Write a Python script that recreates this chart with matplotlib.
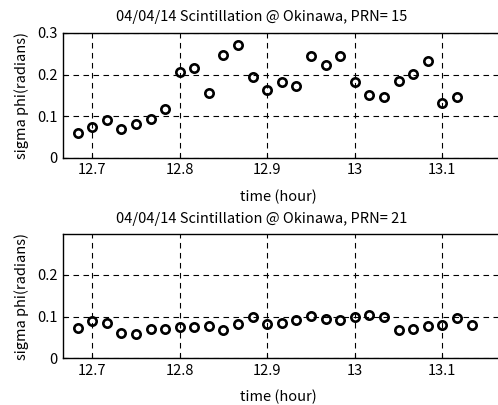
import matplotlib
matplotlib.use('Agg')
import matplotlib.pyplot as plt

plt.rcParams['font.family'] = ['Noto Sans CJK JP', 'DejaVu Sans']

# PRN 15
t15 = [12.6833, 12.7, 12.7167, 12.7333, 12.75, 12.7667, 12.7833, 12.8, 12.8167,
       12.8333, 12.85, 12.8667, 12.8833, 12.9, 12.9167, 12.9333, 12.95, 12.9667,
       12.9833, 13.0, 13.0167, 13.0333, 13.05, 13.0667, 13.0833, 13.1, 13.1167]
sig15 = [0.060, 0.074, 0.090, 0.070, 0.082, 0.093, 0.118, 0.206, 0.217,
         0.155, 0.247, 0.272, 0.194, 0.162, 0.182, 0.172, 0.245, 0.222,
         0.245, 0.182, 0.152, 0.146, 0.185, 0.202, 0.232, 0.132, 0.146]

# PRN 21
t21 = [12.6833, 12.7, 12.7167, 12.7333, 12.75, 12.7667, 12.7833, 12.8, 12.8167,
       12.8333, 12.85, 12.8667, 12.8833, 12.9, 12.9167, 12.9333, 12.95, 12.9667,
       12.9833, 13.0, 13.0167, 13.0333, 13.05, 13.0667, 13.0833, 13.1, 13.1167,
       13.1333]
sig21 = [0.072, 0.090, 0.085, 0.061, 0.059, 0.070, 0.070, 0.074, 0.074,
         0.077, 0.068, 0.082, 0.100, 0.081, 0.084, 0.092, 0.102, 0.094,
         0.092, 0.099, 0.104, 0.099, 0.068, 0.071, 0.077, 0.079, 0.097,
         0.079]

xticks = [12.7, 12.8, 12.9, 13.0, 13.1]
xticklabels = ['12.7', '12.8', '12.9', '13', '13.1']

W, H = 498, 405
fig = plt.figure(figsize=(W / 100, H / 100), dpi=100)

fs = 10.5
left, right = 63, 500.8


def setup(ax, t, s, ytop, yticks, ylabels):
    ax.plot(t, s, 'o', mfc='none', mec='black', ms=6, mew=1.9, clip_on=False)
    ax.set_xlim(12.6667, 13.1667)
    ax.set_ylim(0, ytop)
    ax.set_xticks(xticks)
    ax.set_xticklabels(xticklabels, fontsize=fs)
    ax.set_yticks(yticks)
    ax.set_yticklabels(ylabels, fontsize=fs)
    ax.tick_params(direction='in', length=3, width=0.8, pad=4)
    ax.grid(True, color='black', linestyle=(0, (5, 4)), linewidth=0.8)
    for sp in ax.spines.values():
        sp.set_linewidth(1.0)
    ax.set_xlabel('time (hour)', fontsize=fs)
    ax.xaxis.set_label_coords((278 - left) / (right - left), -0.255)
    ax.set_ylabel('sigma phi(radians)', fontsize=fs)
    ax.yaxis.set_label_coords(-(63 - 29) / (right - left), 0.5)


ax1 = fig.add_axes([left / W, 1 - 157.7 / H, (right - left) / W, (157.7 - 33) / H])
setup(ax1, t15, sig15, 0.3, [0, 0.1, 0.2, 0.3], ['0', '0.1', '0.2', '0.3'])
fig.text(261.5 / W, 1 - 17.5 / H, '04/04/14 Scintillation @ Okinawa, PRN= 15',
         ha='center', va='center', fontsize=fs)

ax2 = fig.add_axes([left / W, 1 - 358.3 / H, (right - left) / W, (358.3 - 234.3) / H])
setup(ax2, t21, sig21, 0.297, [0, 0.1, 0.2], ['0', '0.1', '0.2'])
fig.text(261.5 / W, 1 - 218.5 / H, '04/04/14 Scintillation @ Okinawa, PRN= 21',
         ha='center', va='center', fontsize=fs)

fig.savefig('out.png', dpi=100)
